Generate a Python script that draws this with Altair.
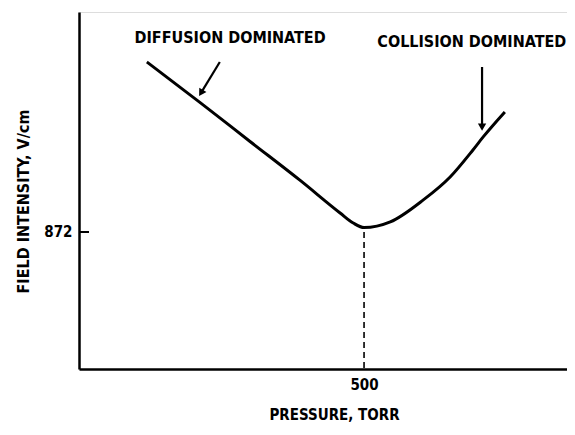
import altair as alt
import pandas as pd

# Curve (pressure in torr, field intensity in V/cm)
pressure = [119, 212, 300, 388, 458, 481, 500, 546, 604, 651, 691, 709, 747]
field = [1954, 1697, 1448, 1200, 993, 929, 900, 936, 1076, 1222, 1394, 1477, 1636]

x_ticks = [500]
y_ticks = [872]
x_title = "PRESSURE, TORR"
y_title = "FIELD INTENSITY, V/cm"

notes = ["DIFFUSION DOMINATED", "COLLISION DOMINATED"]
note_x = [265, 689]
note_y = [2107, 2081]

arrow_x1 = [247, 707]
arrow_y1 = [1954, 1922]
arrow_x2 = [214, 707]
arrow_y2 = [1757, 1540]
arrow_angle = [211, 180]

FONT = "DejaVu Sans Condensed, Liberation Sans Narrow, DejaVu Sans, sans-serif"

curve_df = pd.DataFrame({"p": pressure, "e": field})
notes_df = pd.DataFrame({"t": notes, "x": note_x, "y": note_y})
arrows_df = pd.DataFrame({"x1": arrow_x1, "y1": arrow_y1, "x2": arrow_x2,
                          "y2": arrow_y2, "ang": arrow_angle})
min_df = pd.DataFrame({"p": x_ticks, "e": y_ticks})

xs = alt.Scale(domain=[0, 856], nice=False, zero=False)
ys = alt.Scale(domain=[0, 2272], nice=False, zero=False)

x_axis = alt.Axis(values=x_ticks, ticks=False, grid=False, domainColor="black",
                  domainWidth=2.5, labelFont=FONT, labelFontSize=15,
                  labelFontWeight="bold", labelColor="black", labelPadding=8,
                  title=x_title, titleFont=FONT, titleFontSize=15,
                  titleFontWeight="bold", titleColor="black", titleX=255,
                  titleY=45, titleAlign="center", titleBaseline="middle")
y_axis = alt.Axis(values=y_ticks, ticks=False, grid=False, domainColor="black",
                  domainWidth=2.5, labelFont=FONT, labelFontSize=15,
                  labelFontWeight="bold", labelColor="black", labelPadding=7,
                  title=y_title, titleFont=FONT, titleFontSize=16,
                  titleFontWeight="bold", titleColor="black", titleX=-56,
                  titleY=189, titleAlign="center", titleBaseline="middle")

curve = alt.Chart(curve_df).mark_line(color="black", strokeWidth=3,
                                      interpolate="monotone").encode(
    x=alt.X("p:Q", scale=xs, axis=x_axis),
    y=alt.Y("e:Q", scale=ys, axis=y_axis),
)

dashed = alt.Chart(min_df).mark_rule(color="black", strokeWidth=1.6,
                                     strokeDash=[6, 4]).encode(
    x="p:Q", y="e:Q", y2=alt.datum(0)
)

tick = alt.Chart(min_df).mark_rule(color="black", strokeWidth=2).encode(
    y="e:Q", x=alt.value(0), x2=alt.value(10)
)

arrow_lines = alt.Chart(arrows_df).mark_rule(color="black", strokeWidth=2.2).encode(
    x="x1:Q", y="y1:Q", x2="x2:Q", y2="y2:Q"
)
arrow_heads = alt.Chart(arrows_df).mark_point(shape="triangle-up", filled=True,
                                              color="black", size=70,
                                              opacity=1).encode(
    x="x2:Q", y="y2:Q", angle=alt.Angle("ang:Q", scale=None)
)

labels = alt.Chart(notes_df).mark_text(font=FONT, fontSize=16, fontWeight="bold",
                                       color="black").encode(
    x="x:Q", y="y:Q", text="t:N"
)

chart = alt.layer(curve, dashed, tick, arrow_lines, arrow_heads, labels).properties(
    width=488, height=357, autosize="none",
    padding={"left": 71, "top": 4, "right": 0, "bottom": 56},
).configure_view(stroke=None).configure(background="white")

chart.save("out.html", embed_options={"renderer": "svg", "actions": False})
